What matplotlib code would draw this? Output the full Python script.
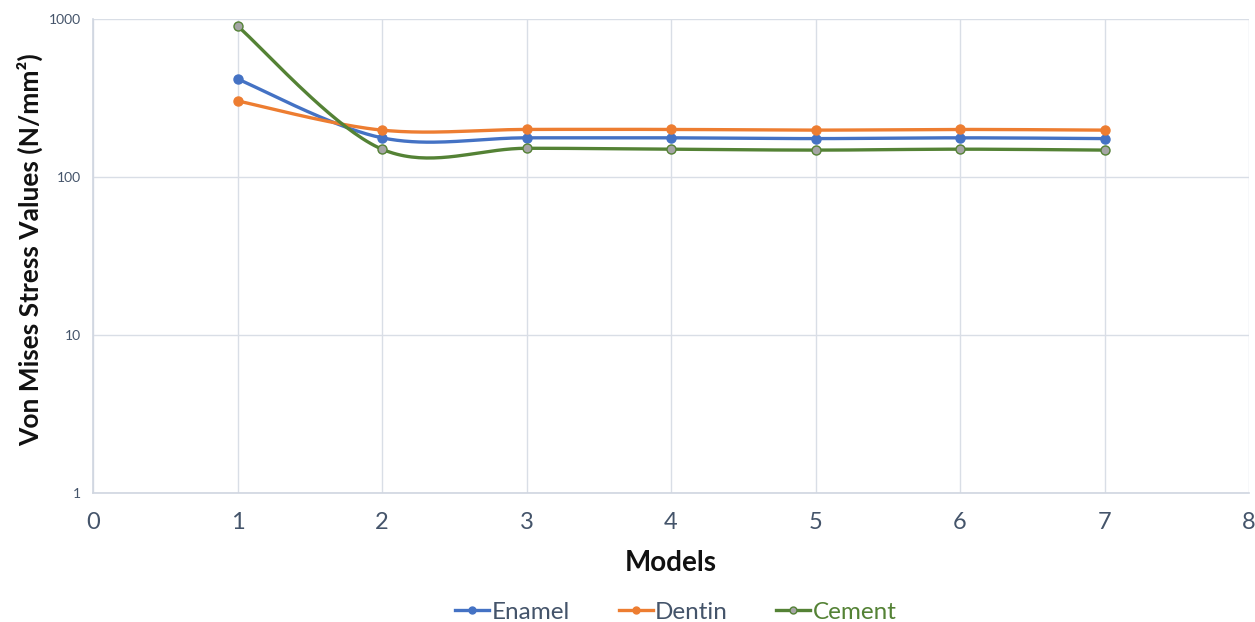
import numpy as np
import matplotlib
matplotlib.use("Agg")
import matplotlib.pyplot as plt
from matplotlib.ticker import FixedLocator, FixedFormatter, NullLocator

models = [1, 2, 3, 4, 5, 6, 7]
enamel = [417, 177, 177, 177, 175, 177, 175]
dentin = [303, 198, 200, 200, 198, 200, 198]
cement = [903, 150, 152, 150, 148, 150, 148]
series_names = ["Enamel", "Dentin", "Cement"]
y_ticks = [1, 10, 100, 1000]
x_ticks = [0, 1, 2, 3, 4, 5, 6, 7, 8]

plt.rcParams['font.family'] = ['Lato', 'DejaVu Sans']

def smooth(xs, ys, n=40):
    # Catmull-Rom style smoothing in (x, log y) display space, like Excel smoothed lines
    x = np.asarray(xs, float)
    y = np.log10(np.asarray(ys, float))
    px, py = [], []
    for i in range(len(x) - 1):
        p0 = (x[i-1], y[i-1]) if i > 0 else (x[i], y[i])
        p1 = (x[i], y[i]); p2 = (x[i+1], y[i+1])
        p3 = (x[i+2], y[i+2]) if i + 2 < len(x) else (x[i+1], y[i+1])
        c1 = (p1[0] + (p2[0]-p0[0])/6, p1[1] + (p2[1]-p0[1])/6)
        c2 = (p2[0] - (p3[0]-p1[0])/6, p2[1] - (p3[1]-p1[1])/6)
        t = np.linspace(0, 1, n)
        bx = (1-t)**3*p1[0] + 3*(1-t)**2*t*c1[0] + 3*(1-t)*t**2*c2[0] + t**3*p2[0]
        by = (1-t)**3*p1[1] + 3*(1-t)**2*t*c1[1] + 3*(1-t)*t**2*c2[1] + t**3*p2[1]
        px.extend(bx); py.extend(by)
    return np.array(px), 10**np.array(py)

fig = plt.figure(figsize=(12.55, 6.22), dpi=100)
ax = fig.add_axes([93/1255, 1-493/622, (1249-93)/1255, (493-19)/622])
ax.set_yscale('log')
ax.set_xlim(0, 8)
ax.set_ylim(1, 1000)

styles = [
    dict(color='#4472C4', mfc='#4472C4', mec='#4472C4'),
    dict(color='#ED7D31', mfc='#ED7D31', mec='#ED7D31'),
    dict(color='#548235', mfc='#A5A5A5', mec='#548235'),
]
handles = []
for vals, name, st in zip([enamel, dentin, cement], series_names, styles):
    sx, sy = smooth(models, vals)
    ax.plot(sx, sy, color=st['color'], lw=2.4, solid_capstyle='round', zorder=3)
    ax.plot(models, vals, ls='none', marker='o', ms=6.5, mfc=st['mfc'], mec=st['mec'], mew=1.0, zorder=4)
    h, = ax.plot([], [], color=st['color'], lw=2.4, marker='o', ms=5, mfc=st['mfc'], mec=st['mec'], label=name)
    handles.append(h)

ax.yaxis.set_major_locator(FixedLocator(y_ticks))
ax.yaxis.set_major_formatter(FixedFormatter([str(v) for v in y_ticks]))
ax.yaxis.set_minor_locator(NullLocator())
ax.set_xticks(x_ticks)
ax.set_xticklabels([str(v) for v in x_ticks])
ax.grid(True, which='major', color='#D9DEE6', lw=1.0, zorder=0)
ax.set_axisbelow(True)
for s in ['top', 'right']:
    ax.spines[s].set_visible(False)
for s in ['left', 'bottom']:
    ax.spines[s].set_color('#D0D6E0')
    ax.spines[s].set_linewidth(1.2)
ax.tick_params(axis='both', length=0)
ax.tick_params(axis='y', labelsize=10, labelcolor='#44546A', pad=9)
ax.tick_params(axis='x', labelsize=17, labelcolor='#44546A', pad=14)

ax.set_xlabel('Models', fontsize=20, fontweight='bold', labelpad=12, color='#111111')
fig.text(30/1255, 1-250/622, 'Von Mises Stress Values (N/mm²)', rotation=90,
         ha='center', va='center', fontsize=19, fontweight='bold', color='#111111')

leg = fig.legend(handles=handles, loc='center', bbox_to_anchor=(676/1255, 1-612/622), ncol=3,
                 frameon=False, fontsize=17.5, handlelength=1.4, handletextpad=0.1, columnspacing=2.0)
text_colors = ['#44546A', '#44546A', '#548235']
for t, c in zip(leg.get_texts(), text_colors):
    t.set_color(c)

fig.savefig('out.png', dpi=100)
